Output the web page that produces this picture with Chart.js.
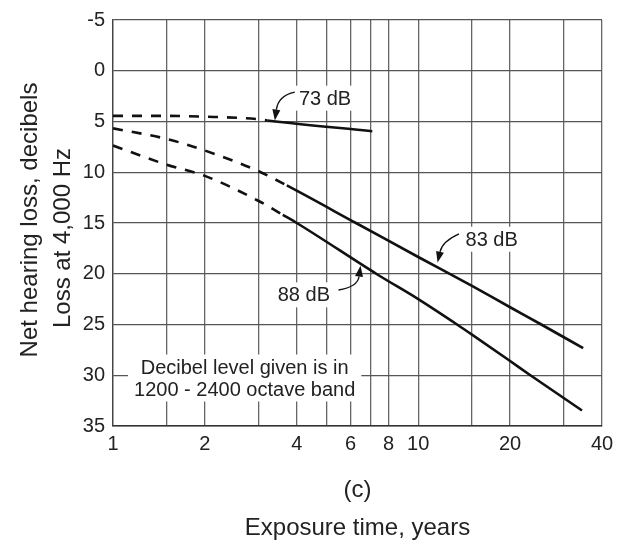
<!DOCTYPE html>
<html>
<head>
<meta charset="utf-8">
<script src="https://cdn.jsdelivr.net/npm/chart.js@4.4.0/dist/chart.umd.min.js"></script>
<style>
  html, body { margin: 0; padding: 0; background: #fff; }
  #wrap { width: 629px; height: 544px; }
</style>
</head>
<body>
<div id="wrap"><canvas id="myChart" width="629" height="544"></canvas></div>
<script>
// x grid (years) and the ones that get a label
var xGridYears = [1, 1.5, 2, 3, 4, 5, 6, 7, 8, 10, 15, 20, 30, 40];
var xLabelYears = [1, 2, 4, 6, 8, 10, 20, 40];

// 73 dB
var years73 = [1, 1.5, 2, 3, 3.2, 7.07];
var loss73 = [4.45, 4.45, 4.52, 4.78, 4.9, 5.96];
var dashEnd73 = 4;

// 83 dB
var years83 = [1, 1.5, 2, 3, 3.71, 6.25, 10, 15, 20, 25.3, 34.7];
var loss83 = [5.68, 6.72, 7.86, 9.9, 11.3, 15, 18.35, 21.2, 23.3, 25, 27.33];
var dashEnd83 = 4;

// 88 dB
var years88 = [1, 1.5, 2, 3, 3.6, 4, 7.37, 10, 13.4, 15, 20, 23.3, 34.4];
var loss88 = [7.37, 9.26, 10.36, 12.83, 14.2, 15, 20.1, 22.5, 25, 26, 28.6, 30, 33.47];
var dashEnd88 = 4;

var FONT = "'Liberation Sans', Arial, Helvetica, sans-serif";

function pts(xs, ys) {
  return xs.map(function (x, i) { return {x: x, y: ys[i]}; });
}

function curve(xs, ys, dashEnd) {
  return {
    data: pts(xs, ys),
    borderColor: '#111',
    borderWidth: 2.6,
    pointRadius: 0,
    fill: false,
    cubicInterpolationMode: 'monotone',
    segment: {
      borderDash: function (ctx) { return ctx.p1DataIndex <= dashEnd ? [10, 9] : undefined; }
    }
  };
}

// text labels (placed in data units) and arrows
var notes = [
  {lines: ['73 dB'], x: 4.95, y: 2.7},
  {lines: ['83 dB'], x: 17.4, y: 16.6},
  {lines: ['88 dB'], x: 4.22, y: 22.08},
  {lines: ['Decibel level given is in', '1200 - 2400 octave band'], x: 2.7, y: 30.27}
];
var arrows = [
  {from: [3.94, 2.1], ctrl: [3.48, 2.45], to: [3.39, 4.9]},
  {from: [13.6, 16.07], ctrl: [12.0, 16.8], to: [11.57, 18.9]},
  {from: [5.48, 21.6], ctrl: [6.33, 21.3], to: [6.47, 19.2]}
];

var notesPlugin = {
  id: 'notes',
  beforeDatasetsDraw: function (chart) {
    var ctx = chart.ctx, xs = chart.scales.x, ys = chart.scales.y;
    ctx.save();
    ctx.font = '20px ' + FONT;
    ctx.textAlign = 'center';
    ctx.textBaseline = 'middle';
    notes.forEach(function (n) {
      var cx = xs.getPixelForValue(n.x), cy = ys.getPixelForValue(n.y);
      var lh = 22;
      var w = 0;
      n.lines.forEach(function (l) { w = Math.max(w, ctx.measureText(l).width); });
      var h = lh * (n.lines.length - 1) + 25;
      ctx.fillStyle = '#fff';
      ctx.fillRect(cx - w / 2 - 6, cy - h / 2, w + 12, h);
      ctx.fillStyle = '#222';
      n.lines.forEach(function (l, i) {
        ctx.fillText(l, cx, cy - lh * (n.lines.length - 1) / 2 + i * lh + 1);
      });
    });
    ctx.restore();
  },
  afterDatasetsDraw: function (chart) {
    var ctx = chart.ctx, xs = chart.scales.x, ys = chart.scales.y;
    ctx.save();
    ctx.strokeStyle = '#111';
    ctx.fillStyle = '#111';
    ctx.lineWidth = 1.4;
    arrows.forEach(function (a) {
      var x0 = xs.getPixelForValue(a.from[0]), y0 = ys.getPixelForValue(a.from[1]);
      var xc = xs.getPixelForValue(a.ctrl[0]), yc = ys.getPixelForValue(a.ctrl[1]);
      var x1 = xs.getPixelForValue(a.to[0]), y1 = ys.getPixelForValue(a.to[1]);
      var ang = Math.atan2(y1 - yc, x1 - xc);
      var hl = 11, hw = 4;
      var bx = x1 - hl * Math.cos(ang), by = y1 - hl * Math.sin(ang);
      ctx.beginPath();
      ctx.moveTo(x0, y0);
      ctx.quadraticCurveTo(xc, yc, bx, by);
      ctx.stroke();
      ctx.beginPath();
      ctx.moveTo(x1, y1);
      ctx.lineTo(bx + hw * Math.sin(ang), by - hw * Math.cos(ang));
      ctx.lineTo(bx - hw * Math.sin(ang), by + hw * Math.cos(ang));
      ctx.closePath();
      ctx.fill();
    });
    // y axis titles
    var ca = chart.chartArea;
    var mid = (ca.top + ca.bottom) / 2;
    ctx.fillStyle = '#222';
    ctx.font = '24px ' + FONT;
    ctx.textAlign = 'center';
    ctx.textBaseline = 'middle';
    ctx.translate(30, mid - 3);
    ctx.rotate(-Math.PI / 2);
    ctx.fillText('Net hearing loss, decibels', 0, 0);
    ctx.rotate(Math.PI / 2);
    ctx.translate(33, 18);
    ctx.rotate(-Math.PI / 2);
    ctx.fillText('Loss at 4,000 Hz', 0, 0);
    ctx.restore();
  }
};

var ctx = document.getElementById('myChart').getContext('2d');
var chart = new Chart(ctx, {
  type: 'line',
  data: {
    datasets: [
      curve(years73, loss73, dashEnd73),
      curve(years83, loss83, dashEnd83),
      curve(years88, loss88, dashEnd88)
    ]
  },
  options: {
    responsive: false,
    animation: false,
    layout: {padding: {top: 13, right: 27, bottom: 0, left: 0}},
    plugins: {legend: {display: false}, tooltip: {enabled: false}},
    scales: {
      x: {
        type: 'logarithmic',
        min: 1,
        max: 40,
        afterBuildTicks: function (scale) {
          scale.ticks = xGridYears.map(function (v) { return {value: v}; });
        },
        afterFit: function (scale) { scale.height = 118; },
        grid: {color: '#666', lineWidth: 1.3, drawTicks: false},
        border: {color: '#333', width: 1.5},
        ticks: {
          autoSkip: false,
          maxRotation: 0,
          padding: 6,
          color: '#222',
          font: {family: FONT, size: 20},
          callback: function (v) { return xLabelYears.indexOf(v) >= 0 ? String(v) : ''; }
        },
        title: {
          display: true,
          text: ['(c)', 'Exposure time, years'],
          color: '#222',
          font: {family: FONT, size: 24, lineHeight: 1.58},
          padding: {top: 0, bottom: -3}
        }
      },
      y: {
        type: 'linear',
        reverse: true,
        min: -5,
        max: 35,
        afterFit: function (scale) { scale.width = 113; },
        grid: {color: '#555', lineWidth: 1.3, drawTicks: false},
        border: {color: '#444', width: 1.3},
        ticks: {
          stepSize: 5,
          padding: 8,
          color: '#222',
          font: {family: FONT, size: 20}
        }
      }
    }
  },
  plugins: [notesPlugin]
});
</script>
</body>
</html>
